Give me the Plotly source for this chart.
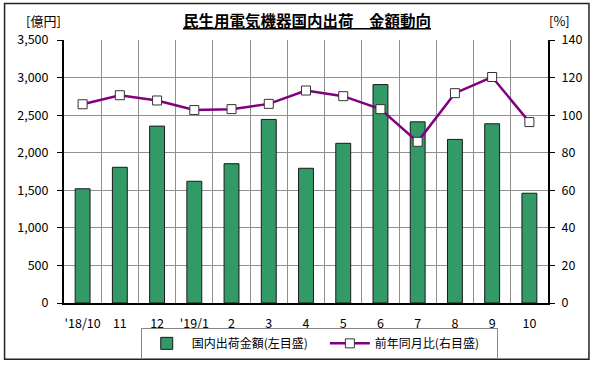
import plotly.graph_objects as go

categories = ["'18/10", "11", "12", "'19/1", "2", "3", "4", "5", "6", "7", "8", "9", "10"]
shipment_value = [1520, 1806, 2354, 1620, 1854, 2443, 1793, 2125, 2907, 2411, 2177, 2385, 1461]
yoy_ratio = [105.8, 110.6, 107.8, 102.7, 103.2, 106.0, 113.1, 110.1, 103.2, 85.8, 111.7, 120.3, 96.3]

W, H = 597, 367
L, R, T, B = 63.5, 49, 39.6, 63.5
PW, PH = W - L - R, H - T - B

def px(x):
    return (x - L) / PW

def py(y):
    return (H - B - y) / PH

FONT = "Noto Sans CJK JP, Noto Sans, sans-serif"

fig = go.Figure()
fig.add_trace(go.Bar(
    x=categories, y=shipment_value, name="国内出荷金額(左目盛)　",
    marker=dict(color="#339966", line=dict(color="#1a1a1a", width=1)),
    width=0.4, yaxis="y",
))
fig.add_trace(go.Scatter(
    x=categories, y=yoy_ratio, name="前年同月比(右目盛)　",
    mode="lines+markers",
    line=dict(color="#800080", width=2.5),
    marker=dict(symbol="square", size=9, color="white", line=dict(color="#333333", width=1)),
    yaxis="y2",
))

fig.update_layout(
    width=W, height=H,
    margin=dict(l=L, r=R, t=T, b=B, autoexpand=False),
    paper_bgcolor="white", plot_bgcolor="white",
    font=dict(family=FONT, size=12, color="black"),
    showlegend=True,
    legend=dict(
        orientation="h", x=px(319), y=py(344), xanchor="center", yanchor="middle",
        bordercolor="#888888", borderwidth=1, font=dict(size=12),
        itemwidth=40, tracegroupgap=0,
    ),
    xaxis=dict(
        type="category", tickson="boundaries", showgrid=True, gridcolor="#909090", gridwidth=1,
        showline=True, linecolor="black", linewidth=1.5, ticks="", tickfont=dict(size=12.5),
        tickangle=0, ticklabelstandoff=8, range=[-0.5, len(categories) - 0.5],
    ),
    yaxis=dict(
        range=[0, 3500], dtick=500, tickformat=",", showgrid=True, gridcolor="#909090", gridwidth=1,
        showline=True, linecolor="black", linewidth=2, ticks="outside", ticklen=5,
        tickcolor="black", zeroline=False, tickfont=dict(size=12.5), ticklabelstandoff=6,
    ),
    yaxis2=dict(
        range=[0, 140], dtick=20, overlaying="y", side="right", showgrid=False,
        showline=True, linecolor="black", linewidth=2, ticks="outside", ticklen=5,
        tickcolor="black", zeroline=False, tickfont=dict(size=12.5), ticklabelstandoff=4,
    ),
    bargap=0.6,
)

fig.add_annotation(text="<b><u>民生用電気機器国内出荷　金額動向</u></b>", x=px(307), y=py(20),
                   xref="paper", yref="paper", showarrow=False, font=dict(size=15.5),
                   xanchor="center", yanchor="middle")
fig.add_annotation(text="[億円]", x=px(43), y=py(20), xref="paper", yref="paper",
                   showarrow=False, font=dict(size=13), xanchor="center", yanchor="middle")
fig.add_annotation(text="[%]", x=px(560), y=py(20), xref="paper", yref="paper",
                   showarrow=False, font=dict(size=13), xanchor="center", yanchor="middle")

fig.add_shape(type="rect", xref="paper", yref="paper",
              x0=px(4), x1=px(589), y0=py(360), y1=py(3),
              line=dict(color="#222222", width=1.5), fillcolor="rgba(0,0,0,0)", layer="below")

fig.write_html("out.html", config={"displayModeBar": False},
               post_script="document.body.style.margin='0px';")
